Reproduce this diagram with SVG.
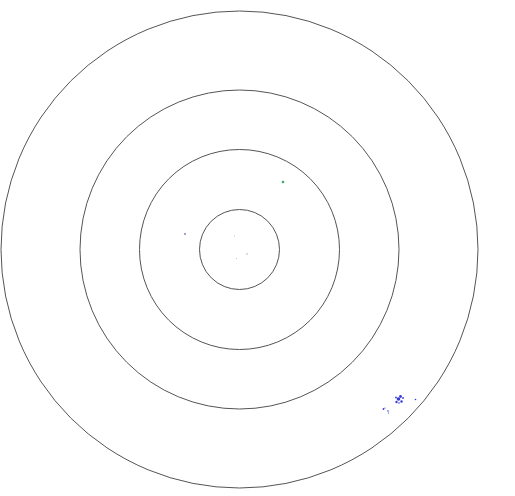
<svg xmlns="http://www.w3.org/2000/svg" width="515" height="496" viewBox="0 0 515 496">
<style>
.ring{fill:none;stroke:#555;stroke-width:1}
.b{fill:#3a3ad8}
</style>
<rect width="515" height="496" fill="#fff"/>
<g id="rings">
<circle id="r4" class="ring" cx="239.5" cy="249.5" r="238.5"/>
<circle id="r3" class="ring" cx="239.5" cy="249.5" r="159.5"/>
<circle id="r2" class="ring" cx="239.5" cy="249.5" r="100"/>
<circle id="r1" class="ring" cx="239.5" cy="249.5" r="40"/>
</g>
<g id="points">
<circle cx="283" cy="182" r="1.3" fill="#3aaa6a"/>
<circle cx="185" cy="234" r="0.9" fill="#6a7ad8"/>
<circle cx="234.5" cy="236" r="0.5" fill="#aab"/>
<circle cx="247" cy="254" r="0.7" fill="#99a"/>
<circle cx="236.5" cy="258.5" r="0.5" fill="#aab"/>
<g class="b">
<circle cx="398.5" cy="399" r="1.8"/>
<circle cx="400.5" cy="396.5" r="1.4"/>
<circle cx="396.5" cy="402" r="1.2"/>
<circle cx="401.5" cy="401.5" r="1.2"/>
<circle cx="396" cy="397.5" r="0.9"/>
<circle cx="403" cy="398" r="0.9"/>
<circle cx="399" cy="403" r="0.8"/>
<circle cx="383.5" cy="409" r="0.9"/>
<circle cx="385" cy="408" r="0.6"/>
<circle cx="388" cy="411" r="0.8"/>
<circle cx="388.5" cy="413" r="0.6"/>
<circle cx="415.5" cy="399.5" r="0.8"/>
</g>
</g>
</svg>
